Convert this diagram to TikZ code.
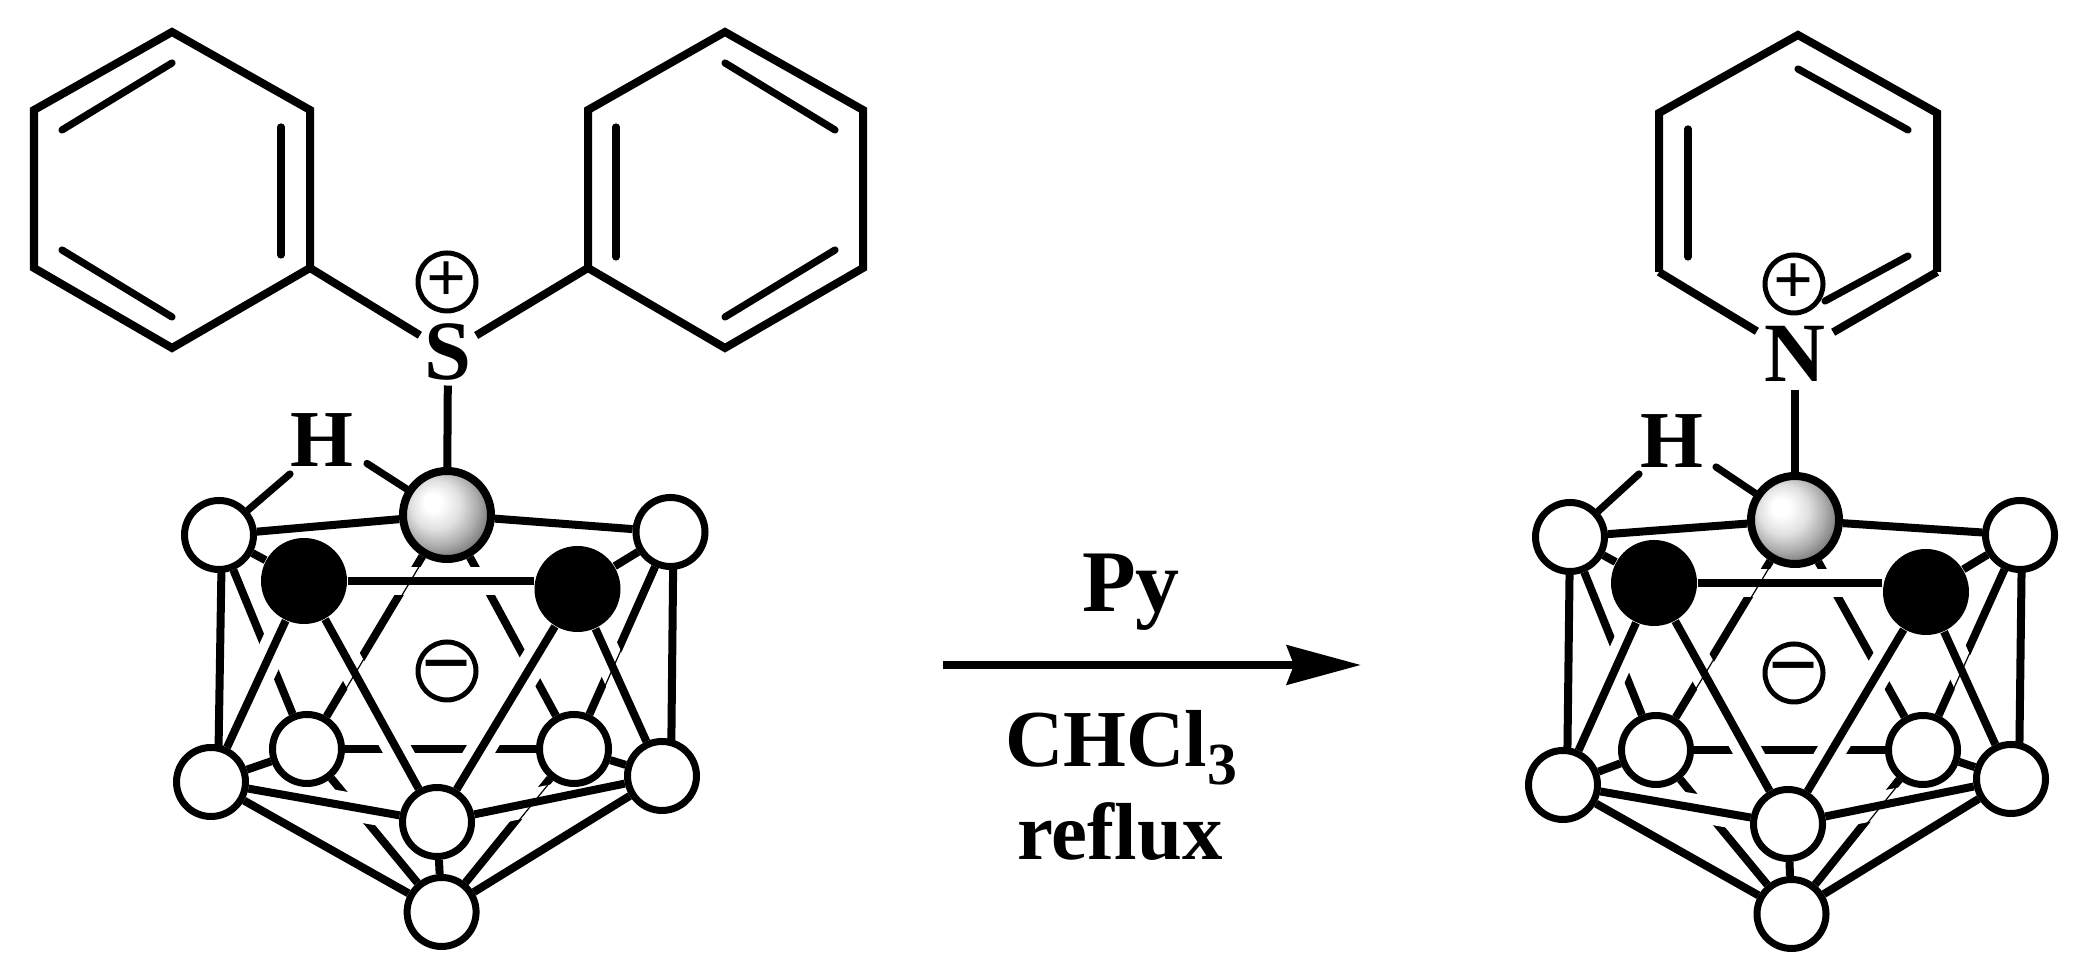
\documentclass[tikz,border=0pt]{standalone}
\usepackage{fontspec}
\setmainfont{Liberation Serif}
\usetikzlibrary{arrows.meta}
\usetikzlibrary{backgrounds}
\pgfdeclareradialshading{sphere}{\pgfpoint{-9bp}{8bp}}{color(0bp)=(white); color(5bp)=(white); color(14bp)=(black!12); color(22bp)=(black!32); color(29bp)=(black!54); color(36bp)=(black!72); color(50bp)=(black!80)}
\tikzset{
    bond/.style={black, line width=0.08cm},
    ringbond/.style={black, line width=0.08cm},
    dbond/.style={black, line width=0.072cm, line cap=round},
    halo/.style={white, line width=0.28cm},
    sliver/.style={black, line width=0.012cm, transform canvas={xshift=0.03cm}},
    boron/.style={circle, draw=black, fill=white, line width=0.07cm, minimum size=0.69cm, inner sep=0pt},
    carbon/.style={circle, fill=black, minimum size=0.86cm, inner sep=0pt},
    sboron/.style={circle, draw=black, line width=0.08cm, minimum size=0.88cm, inner sep=0pt, shading=sphere},
    charge/.style={circle, draw=black, fill=white, line width=0.05cm, minimum size=0.58cm, inner sep=0pt, font=\fontsize{20}{20}\selectfont\bfseries},
    anion/.style={charge, font=\fontsize{25}{25}\selectfont\bfseries},
    atomlabel/.style={anchor=base, inner sep=0.04cm, font=\fontsize{24}{24}\selectfont\bfseries},
    reagent/.style={anchor=base, inner sep=0pt, font=\fontsize{23}{23}\selectfont\bfseries}
}

\begin{document}
\begin{tikzpicture}
    \useasboundingbox (0,0) rectangle (20.81,9.79);

    % left phenyl ring
    \coordinate (pa1) at (1.72,9.47);
    \coordinate (pa2) at (3.10,8.69);
    \coordinate (pa3) at (3.10,7.11);
    \coordinate (pa4) at (1.72,6.31);
    \coordinate (pa5) at (0.34,7.11);
    \coordinate (pa6) at (0.34,8.69);
    \coordinate (da1) at (1.72,9.16);
    \coordinate (da2) at (0.62,8.49);
    \coordinate (da3) at (2.81,8.52);
    \coordinate (da4) at (2.81,7.24);
    \coordinate (da5) at (0.62,7.29);
    \coordinate (da6) at (1.72,6.62);
    \draw[ringbond] (pa1) -- (pa2) -- (pa3) -- (pa4) -- (pa5) -- (pa6) -- cycle;
    \draw[dbond] (da1) -- (da2);
    \draw[dbond] (da3) -- (da4);
    \draw[dbond] (da5) -- (da6);

    % right phenyl ring
    \coordinate (pb1) at (7.25,9.47);
    \coordinate (pb2) at (8.63,8.69);
    \coordinate (pb3) at (8.63,7.11);
    \coordinate (pb4) at (7.25,6.31);
    \coordinate (pb5) at (5.88,7.11);
    \coordinate (pb6) at (5.88,8.69);
    \coordinate (db1) at (7.25,9.16);
    \coordinate (db2) at (8.35,8.49);
    \coordinate (db3) at (6.16,8.52);
    \coordinate (db4) at (6.16,7.22);
    \coordinate (db5) at (8.35,7.29);
    \coordinate (db6) at (7.25,6.62);
    \draw[ringbond] (pb1) -- (pb2) -- (pb3) -- (pb4) -- (pb5) -- (pb6) -- cycle;
    \draw[dbond] (db1) -- (db2);
    \draw[dbond] (db3) -- (db4);
    \draw[dbond] (db5) -- (db6);

    % pyridine ring
    \coordinate (py1) at (17.98,9.44);
    \coordinate (py2) at (19.37,8.66);
    \coordinate (py3) at (19.37,7.07);
    \coordinate (py5) at (16.59,7.07);
    \coordinate (py6) at (16.59,8.66);
    \coordinate (dy1) at (17.98,9.10);
    \coordinate (dy2) at (19.08,8.49);
    \coordinate (dy3) at (16.88,8.50);
    \coordinate (dy4) at (16.88,7.22);
    \coordinate (dy5) at (19.08,7.23);
    \coordinate (dy6) at (18.25,6.78);
    \draw[ringbond] (py5) -- (py6) -- (py1) -- (py2) -- (py3);
    \draw[dbond] (dy1) -- (dy2);
    \draw[dbond] (dy3) -- (dy4);
    \draw[dbond] (dy5) -- (dy6);

    % left cage
    \node[boron] (lta) at (2.19,4.44) {};
    \node[sboron] (lball) at (4.47,4.64) {};
    \node[boron] (ltb) at (6.705,4.47) {};
    \node[carbon] (lca) at (3.04,3.98) {};
    \node[carbon] (lcb) at (5.775,3.90) {};
    \node[boron] (lia) at (3.07,2.30) {};
    \node[boron] (lib) at (5.74,2.30) {};
    \node[boron] (loa) at (2.11,1.97) {};
    \node[boron] (lob) at (6.62,2.03) {};
    \node[boron] (lmid) at (4.37,1.57) {};
    \node[boron] (lbot) at (4.416,0.67) {};
    \node[anion] (lminus) at (4.47,3.08) {\raisebox{-0.22cm}[0pt][0pt]{−}};
    \node[atomlabel, font=\fontsize{23}{23}\selectfont\bfseries] (lh) at (3.22,5.12) {H};
    \coordinate (lha) at (2.90,5.05);
    \coordinate (lhb) at (3.67,5.155);
    \node[atomlabel] (sulfur) at (4.48,5.99) {S};
    \node[charge] (splus) at (4.47,6.97) {+};

    % right cage
    \node[boron] (rta) at (15.70,4.42) {};
    \node[sboron] (rball) at (17.95,4.59) {};
    \node[boron] (rtb) at (20.20,4.44) {};
    \node[carbon] (rca) at (16.54,3.96) {};
    \node[carbon] (rcb) at (19.26,3.87) {};
    \node[boron] (ria) at (16.56,2.29) {};
    \node[boron] (rib) at (19.23,2.29) {};
    \node[boron] (roa) at (15.63,1.94) {};
    \node[boron] (rob) at (20.11,2.00) {};
    \node[boron] (rmid) at (17.88,1.55) {};
    \node[boron] (rbot) at (17.915,0.65) {};
    \node[anion] (rminus) at (17.94,3.06) {\raisebox{-0.22cm}[0pt][0pt]{−}};
    \node[atomlabel, font=\fontsize{23}{23}\selectfont\bfseries] (rh) at (16.72,5.11) {H};
    \coordinate (rha) at (16.39,5.05);
    \coordinate (rhb) at (17.16,5.12);
    \node[atomlabel, inner sep=0.07cm] (nitrogen) at (17.95,5.97) {N};
    \node[charge] (nplus) at (17.94,6.95) {+};

    % reaction arrow and conditions
    \coordinate (arrowa) at (9.43,3.14);
    \coordinate (arrowb) at (13.61,3.14);
    \draw[black, line width=0.08cm, -{Stealth[length=0.74cm,width=0.39cm,inset=0.07cm]}] (arrowa) -- (arrowb);
    \node[reagent, font=\fontsize{25}{25}\selectfont\bfseries] (py) at (11.31,3.67) {Py};
    \node[reagent] (chcl) at (11.21,2.12) {CHCl{\fontsize{17}{17}\selectfont\raisebox{-0.18cm}{3}}};
    \node[reagent] (reflux) at (11.20,1.19) {reflux};

    % substituent bonds
    \draw[ringbond] (pa3) -- (sulfur);
    \draw[ringbond] (pb5) -- (sulfur);
    \draw[ringbond] (py5) -- (nitrogen);
    \draw[ringbond] (py3) -- (nitrogen);
    \draw[bond] (sulfur) -- (lball);
    \draw[bond] (nitrogen) -- (rball);
    \draw[dbond] (lha) -- (lta);
    \draw[dbond] (lhb) -- (lball);
    \draw[dbond] (rha) -- (rta);
    \draw[dbond] (rhb) -- (rball);

    \begin{scope}[on background layer]
        % left cage, hidden edges
        \draw[bond] (lball) -- (lia);
        \draw[bond] (lball) -- (lib);
        \draw[bond] (lta) -- (lia);
        \draw[bond] (ltb) -- (lib);
        \draw[bond] (lia) -- (lib);
        \draw[bond] (lia) -- (lbot);
        \draw[bond] (lib) -- (lbot);
        \draw[halo] (lca) -- (lcb.west |- lca);
        \draw[halo] (lca) -- (loa);
        \draw[halo] (lca) -- (lmid);
        \draw[halo] (lcb) -- (lmid);
        \draw[halo] (lcb) -- (lob);
        \draw[halo] (loa) -- (lmid);
        \draw[halo] (lob) -- (lmid);
        \draw[sliver] (lball) -- (lia);
        \draw[sliver] (ltb) -- (lib);
        \draw[sliver] (lib) -- (lbot);
        % left cage, front edges
        \draw[bond] (lta) -- (lball);
        \draw[bond] (lball) -- (ltb);
        \draw[bond] (lta) -- (lca);
        \draw[bond] (ltb) -- (lcb);
        \draw[bond] (lca) -- (lcb.west |- lca);
        \draw[bond] (lca) -- (loa);
        \draw[bond] (lca) -- (lmid);
        \draw[bond] (lcb) -- (lmid);
        \draw[bond] (lcb) -- (lob);
        \draw[bond] ([xshift=0.03cm]lta.center) -- ([xshift=0.07cm]loa.center);
        \draw[bond] ([xshift=0.03cm]ltb.center) -- ([xshift=0.09cm]lob.center);
        \draw[bond] (loa) -- (lia);
        \draw[bond] (lob) -- (lib);
        \draw[bond] (loa) -- (lmid);
        \draw[bond] (lob) -- (lmid);
        \draw[bond] (loa) -- (lbot);
        \draw[bond] (lob) -- (lbot);
        \draw[bond] (lmid) -- (lbot);

        % right cage, hidden edges
        \draw[bond] (rball) -- (ria);
        \draw[bond] (rball) -- (rib);
        \draw[bond] (rta) -- (ria);
        \draw[bond] (rtb) -- (rib);
        \draw[bond] (ria) -- (rib);
        \draw[bond] (ria) -- (rbot);
        \draw[bond] (rib) -- (rbot);
        \draw[halo] (rca) -- (rcb.west |- rca);
        \draw[halo] (rca) -- (roa);
        \draw[halo] (rca) -- (rmid);
        \draw[halo] (rcb) -- (rmid);
        \draw[halo] (rcb) -- (rob);
        \draw[halo] (roa) -- (rmid);
        \draw[halo] (rob) -- (rmid);
        \draw[sliver] (rball) -- (ria);
        \draw[sliver] (rtb) -- (rib);
        \draw[sliver] (rib) -- (rbot);
        % right cage, front edges
        \draw[bond] (rta) -- (rball);
        \draw[bond] (rball) -- (rtb);
        \draw[bond] (rta) -- (rca);
        \draw[bond] (rtb) -- (rcb);
        \draw[bond] (rca) -- (rcb.west |- rca);
        \draw[bond] (rca) -- (roa);
        \draw[bond] (rca) -- (rmid);
        \draw[bond] (rcb) -- (rmid);
        \draw[bond] (rcb) -- (rob);
        \draw[bond] ([xshift=0cm]rta.center) -- ([xshift=0.04cm]roa.center);
        \draw[bond] ([xshift=0.02cm]rtb.center) -- ([xshift=0.08cm]rob.center);
        \draw[bond] (roa) -- (ria);
        \draw[bond] (rob) -- (rib);
        \draw[bond] (roa) -- (rmid);
        \draw[bond] (rob) -- (rmid);
        \draw[bond] (roa) -- (rbot);
        \draw[bond] (rob) -- (rbot);
        \draw[bond] (rmid) -- (rbot);
    \end{scope}
\end{tikzpicture}
\end{document}
